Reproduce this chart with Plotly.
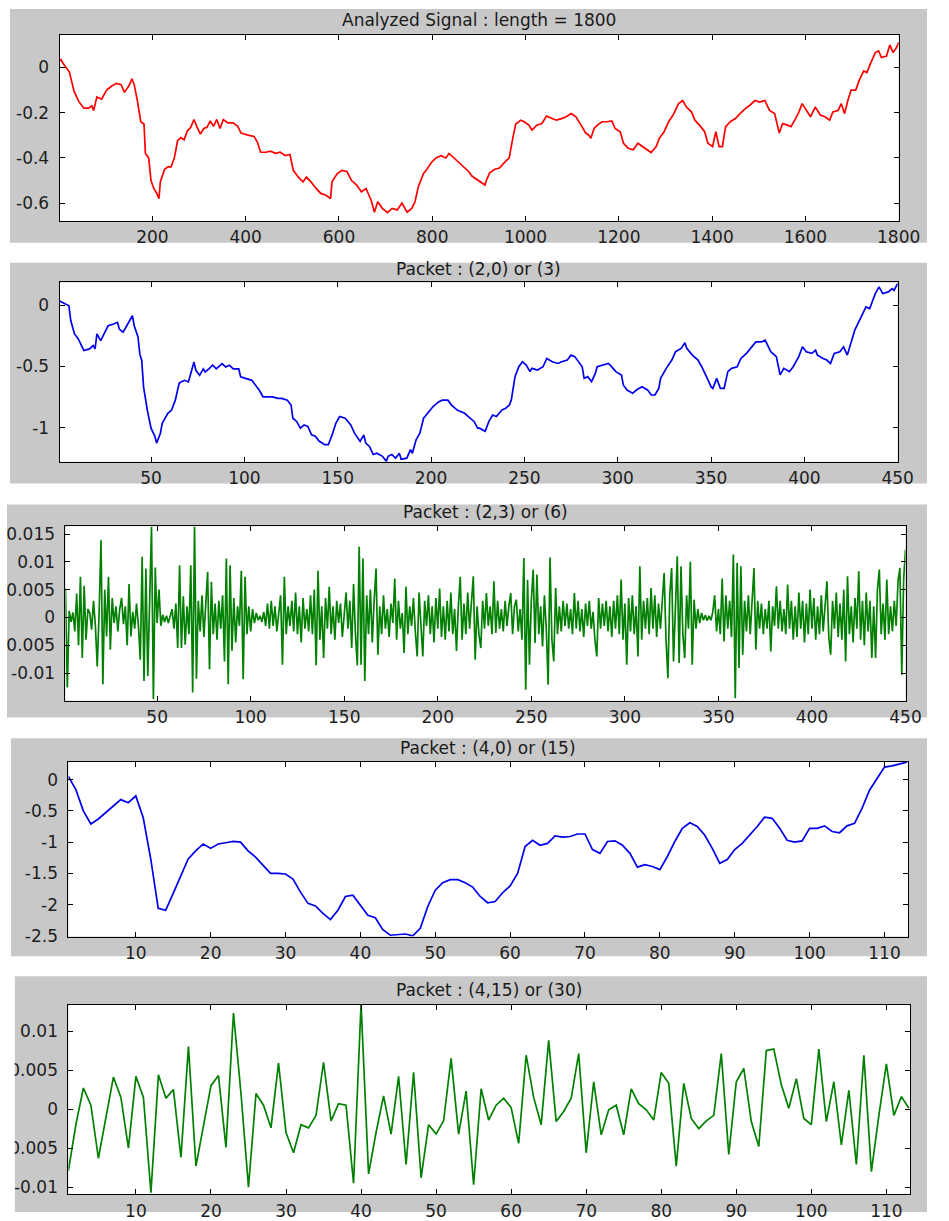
import numpy as np
import plotly.graph_objects as go

W, H = 949, 1221

# ---- analyzed signal, length 1800 (read at sample positions) ----
sig_x = [1, 4, 8, 15, 22, 32, 42, 53, 63, 70,
         74, 81, 91, 102, 112, 123, 133, 140, 150, 156,
         161, 168, 175, 182, 185, 192, 197, 203, 209, 214,
         217, 226, 233, 240, 247, 254, 261, 268, 275, 282,
         289, 296, 303, 310, 317, 324, 331, 338, 345, 352,
         362, 373, 383, 390, 397, 407, 418, 425, 432, 443,
         453, 464, 474, 485, 495, 502, 513, 523, 530, 540,
         551, 561, 572, 582, 585, 596, 606, 617, 627, 638,
         648, 658, 669, 676, 683, 693, 704, 714, 725, 735,
         746, 756, 763, 770, 781, 787, 798, 808, 819, 829,
         836, 847, 857, 867, 878, 885, 899, 913, 916, 923,
         934, 944, 955, 965, 972, 979, 990, 997, 1007, 1014,
         1024, 1035, 1045, 1056, 1066, 1077, 1087, 1098, 1108, 1119,
         1129, 1136, 1140, 1147, 1154, 1164, 1175, 1185, 1192, 1203,
         1210, 1220, 1231, 1241, 1252, 1262, 1269, 1280, 1287, 1297,
         1307, 1318, 1328, 1337, 1345, 1356, 1363, 1373, 1384, 1391,
         1401, 1408, 1415, 1422, 1429, 1439, 1450, 1460, 1471, 1481,
         1492, 1502, 1513, 1523, 1534, 1544, 1551, 1562, 1569, 1579,
         1586, 1593, 1600, 1611, 1621, 1632, 1642, 1652, 1659, 1670,
         1677, 1684, 1691, 1698, 1708, 1715, 1725, 1732, 1739, 1750,
         1757, 1763, 1774, 1781, 1788, 1795, 1800]
sig_y = [0.03, 0.035, 0.02, -0.003, -0.02, -0.105, -0.15, -0.18, -0.18, -0.17,
         -0.19, -0.13, -0.14, -0.10, -0.083, -0.07, -0.076, -0.11, -0.08, -0.05,
         -0.076, -0.15, -0.24, -0.25, -0.38, -0.40, -0.50, -0.535, -0.555, -0.58,
         -0.506, -0.45, -0.44, -0.44, -0.40, -0.324, -0.31, -0.32, -0.28, -0.266,
         -0.23, -0.265, -0.295, -0.27, -0.265, -0.236, -0.26, -0.23, -0.27, -0.23,
         -0.245, -0.245, -0.26, -0.29, -0.295, -0.30, -0.305, -0.33, -0.375, -0.375,
         -0.37, -0.38, -0.375, -0.39, -0.385, -0.455, -0.485, -0.506, -0.485, -0.506,
         -0.535, -0.557, -0.565, -0.58, -0.506, -0.47, -0.455, -0.46, -0.50, -0.52,
         -0.55, -0.535, -0.587, -0.64, -0.594, -0.623, -0.642, -0.623, -0.63, -0.60,
         -0.64, -0.623, -0.594, -0.528, -0.47, -0.455, -0.42, -0.40, -0.39, -0.40,
         -0.38, -0.40, -0.42, -0.44, -0.46, -0.48, -0.50, -0.52, -0.50, -0.466,
         -0.45, -0.445, -0.42, -0.40, -0.32, -0.25, -0.233, -0.24, -0.255, -0.277,
         -0.255, -0.248, -0.215, -0.226, -0.233, -0.226, -0.218, -0.204, -0.218, -0.255,
         -0.29, -0.30, -0.313, -0.27, -0.255, -0.24, -0.24, -0.236, -0.27, -0.284,
         -0.335, -0.357, -0.364, -0.335, -0.35, -0.364, -0.376, -0.35, -0.313, -0.284,
         -0.24, -0.204, -0.16, -0.146, -0.175, -0.197, -0.233, -0.255, -0.284, -0.335,
         -0.35, -0.284, -0.35, -0.35, -0.262, -0.24, -0.226, -0.204, -0.182, -0.167,
         -0.146, -0.153, -0.146, -0.19, -0.204, -0.29, -0.248, -0.255, -0.262, -0.226,
         -0.197, -0.16, -0.182, -0.218, -0.175, -0.21, -0.218, -0.233, -0.197, -0.19,
         -0.16, -0.204, -0.146, -0.10, -0.10, -0.058, -0.015, -0.022, 0.015, 0.066,
         0.073, 0.044, 0.051, 0.10, 0.066, 0.087, 0.11]

# ---- packet (2,0), 450 samples ----
p20_x = [1, 4, 6, 7, 9, 11, 13, 14, 17, 19,
         20, 21, 23, 25, 27, 30, 32, 33, 35, 37,
         39, 40, 41, 43, 44, 45, 46, 48, 50, 52,
         53, 55, 56, 58, 59, 61, 63, 65, 66, 68,
         70, 72, 73, 74, 76, 78, 79, 81, 83, 85,
         86, 88, 90, 92, 94, 97, 98, 101, 104, 106,
         108, 110, 112, 115, 118, 120, 123, 125, 126, 128,
         130, 132, 134, 136, 138, 140, 143, 145, 147, 149,
         151, 154, 157, 159, 162, 164, 165, 167, 169, 171,
         174, 176, 177, 179, 181, 183, 184, 187, 189, 190,
         192, 194, 196, 198, 201, 204, 206, 209, 211, 214,
         218, 220, 223, 225, 226, 229, 231, 233, 235, 238,
         240, 242, 243, 245, 247, 249, 251, 253, 254, 257,
         260, 262, 265, 268, 270, 273, 275, 277, 279, 281,
         282, 284, 286, 288, 289, 292, 295, 296, 299, 302,
         303, 305, 308, 310, 313, 316, 318, 320, 322, 323,
         326, 329, 331, 334, 336, 337, 340, 343, 345, 348,
         350, 351, 353, 355, 357, 359, 361, 364, 366, 369,
         371, 374, 377, 379, 382, 385, 387, 389, 392, 394,
         397, 399, 401, 404, 406, 407, 410, 412, 414, 416,
         419, 421, 423, 425, 427, 430, 433, 435, 438, 440,
         442, 445, 447, 448, 450]
p20_y = [0.035, 0.008, -0.005, -0.127, -0.235, -0.276, -0.343, -0.37, -0.357, -0.33,
         -0.357, -0.235, -0.29, -0.235, -0.168, -0.154, -0.14, -0.195, -0.22, -0.168,
         -0.114, -0.086, -0.168, -0.26, -0.40, -0.45, -0.67, -0.857, -1.005, -1.07,
         -1.127, -1.046, -0.965, -0.91, -0.884, -0.857, -0.776, -0.64, -0.627, -0.614,
         -0.627, -0.519, -0.465, -0.532, -0.573, -0.52, -0.546, -0.52, -0.49, -0.52,
         -0.505, -0.478, -0.505, -0.49, -0.52, -0.52, -0.586, -0.60, -0.614, -0.654,
         -0.695, -0.75, -0.75, -0.75, -0.762, -0.762, -0.776, -0.816, -0.924, -0.95,
         -1.005, -0.978, -0.99, -1.06, -1.07, -1.11, -1.14, -1.14, -1.06, -0.965,
         -0.91, -0.924, -0.978, -1.046, -1.113, -1.06, -1.127, -1.154, -1.22, -1.21,
         -1.235, -1.276, -1.235, -1.22, -1.25, -1.21, -1.26, -1.25, -1.18, -1.21,
         -1.10, -1.046, -0.924, -0.884, -0.83, -0.79, -0.776, -0.776, -0.816, -0.857,
         -0.883, -0.91, -0.95, -1.005, -1.005, -1.03, -0.95, -0.897, -0.91, -0.856,
         -0.842, -0.815, -0.774, -0.584, -0.503, -0.462, -0.49, -0.543, -0.516, -0.53,
         -0.503, -0.435, -0.462, -0.476, -0.462, -0.448, -0.408, -0.42, -0.462, -0.503,
         -0.598, -0.584, -0.625, -0.557, -0.503, -0.49, -0.476, -0.49, -0.543, -0.57,
         -0.652, -0.693, -0.72, -0.693, -0.666, -0.693, -0.734, -0.734, -0.68, -0.598,
         -0.516, -0.448, -0.38, -0.353, -0.307, -0.353, -0.408, -0.448, -0.503, -0.598,
         -0.666, -0.68, -0.598, -0.68, -0.68, -0.543, -0.516, -0.503, -0.435, -0.394,
         -0.353, -0.30, -0.30, -0.285, -0.38, -0.42, -0.57, -0.516, -0.543, -0.503,
         -0.42, -0.34, -0.38, -0.394, -0.367, -0.408, -0.435, -0.448, -0.476, -0.394,
         -0.38, -0.34, -0.408, -0.313, -0.204, -0.109, -0.014, -0.027, 0.095, 0.15,
         0.095, 0.109, 0.136, 0.122, 0.177]

# ---- packet (2,3), 450 detail values, in units of 1e-3 ----
p23_milli = [5.0, -12.6, 1.2, -0.8, 0.9, -2.5, 4.3, -5.0, 7.3, -7.3,
             5.7, -4.0, 1.5, 0.8, -2.2, 3.0, -1.5, -8.8, 1.0, 13.9,
             -12.0, 5.0, -3.4, 7.3, -5.8, 3.5, -1.0, 2.0, -2.5, 1.5,
             3.5, -1.2, 2.0, -5.0, 6.0, -3.4, 1.0, -2.0, 2.5, -1.5,
             -7.6, 10.9, -11.4, 8.8, -10.5, 3.0, 16.3, -14.7, 9.0, -1.0,
             5.0, -1.5, 0.5, -0.8, 0.3, -1.0, 0.5, 1.5, -2.0, 2.5,
             -5.5, 9.4, -5.5, 3.8, -4.9, 2.0, -3.0, 9.4, -13.5, 16.3,
             -11.0, 3.0, -2.5, 4.0, -3.5, 2.0, 8.2, -9.3, 6.4, -3.0,
             2.5, -4.0, 3.0, -2.0, 4.0, -7.9, 10.6, -12.0, 9.4, -6.0,
             3.5, -4.5, 2.0, -1.5, 8.4, -11.1, 7.3, -3.0, 2.0, -2.5,
             1.5, -1.0, 0.8, -0.5, 0.3, -0.8, 1.0, -1.5, 2.5, -2.0,
             3.0, -1.5, 2.0, -2.5, 1.5, 4.0, -8.5, 7.3, -3.0, 2.0,
             -1.5, 3.0, -2.5, 4.5, -3.0, 2.0, -4.5, 3.5, -2.0, 1.5,
             -2.5, 4.0, -3.0, 5.0, -8.6, 8.4, -4.0, 2.0, -7.3, 3.5,
             -2.0, 5.5, -3.0, 2.0, -4.0, 3.0, -1.0, 2.5, -3.5, 1.0,
             4.5, -2.0, 3.0, -5.5, 6.0, -3.0, -8.6, 12.7, -8.5, 10.6,
             -11.4, 4.0, -3.0, 5.0, -4.5, 3.0, 8.8, -6.7, 2.0, -3.0,
             4.0, -2.0, 1.5, -3.5, 2.5, -1.0, 7.0, -4.0, 3.0, -2.0,
             0.8, -6.4, 5.5, -3.0, 2.0, -1.5, 3.5, -2.5, -7.0, 4.5,
             -2.5, -7.0, 3.0, -1.5, 4.0, -3.0, 2.0, -4.5, 3.5, -2.0,
             5.2, -3.5, 2.0, -4.0, 3.0, -2.5, 4.5, -3.0, 1.5, -6.0,
             2.0, 7.3, -4.0, 2.5, -3.0, 4.5, -2.0, 3.0, 7.4, -7.6,
             2.0, -3.0, -5.5, 3.0, -2.0, 4.4, -1.5, 2.0, -3.0, 6.5,
             -2.8, 3.0, -2.0, 1.5, -2.5, 3.0, -1.5, 2.0, 4.4, -3.0,
             2.0, 3.2, -2.5, 1.5, -4.0, 10.7, -13.0, 6.8, -8.5, 3.0,
             8.6, -4.6, 7.7, -3.0, 2.0, -5.2, 4.0, -2.0, -12.1, 10.8,
             -4.0, -7.9, 5.3, -3.0, 2.0, -2.5, 3.0, -1.5, 2.5, -2.0,
             1.5, -3.0, 4.4, -2.0, 3.0, -2.5, 1.5, -3.5, 2.5, -1.5,
             3.0, -2.0, 1.0, -4.0, -7.0, 3.5, -2.0, 2.5, -1.5, 3.0,
             -2.5, 2.0, -3.5, 3.0, -2.0, 4.0, -3.0, 6.8, -4.0, 2.5,
             -8.5, 3.5, -2.5, 4.0, -3.0, 2.0, -7.0, 9.2, -4.0, 3.0,
             -2.0, 3.5, -3.0, 5.3, -2.0, 4.0, -3.5, 2.5, -2.0, 3.0,
             8.0, -4.0, -10.9, 4.0, 8.9, -7.9, 3.0, 11.0, -8.2, 9.2,
             -3.0, -7.3, 4.0, -2.0, 10.0, -8.5, 3.2, -2.0, 1.5, -1.0,
             0.8, -0.5, 0.4, -0.6, 0.3, -0.5, 1.0, 4.0, -2.5, 1.5,
             -3.0, 7.0, -4.3, 4.0, -2.0, 3.0, -3.5, 11.3, -14.5, 9.8,
             -9.1, 9.2, -6.7, 3.0, -2.5, 4.0, -3.0, 2.0, 8.9, -5.8,
             3.0, -2.0, 2.5, -3.0, 1.5, -2.0, 3.0, -6.1, 2.0, -1.5,
             5.6, -2.0, 3.0, -2.5, 1.5, -3.0, 5.9, -2.0, 3.0, -4.0,
             2.0, -3.5, 4.5, -2.0, 3.0, -4.5, 2.5, -3.0, 5.0, -2.0,
             3.5, -4.0, 2.0, -3.0, 4.0, -2.5, 3.0, 6.5, -3.5, -6.7,
             3.0, -2.0, 4.5, -3.5, 2.5, -4.0, 5.0, -7.9, 7.4, -3.0,
             2.0, -4.5, 3.5, -2.0, 8.3, -4.0, 3.0, -5.0, 4.5, -2.5,
             3.0, -7.3, 2.0, -7.3, 5.0, 8.6, -3.0, 2.5, -4.0, 6.8,
             -3.0, 2.0, -2.5, 3.0, -1.5, 6.5, 8.9, -10.3, 6.8, 12.2]

# ---- packet (4,0), 113 samples ----
p40_y = [0.05, -0.16, -0.50, -0.71, -0.63, -0.53, -0.42, -0.32, -0.37, -0.26,
         -0.61, -1.27, -2.06, -2.09, -1.82, -1.53, -1.27, -1.14, -1.03, -1.10,
         -1.03, -1.01, -0.99, -1.00, -1.14, -1.24, -1.37, -1.50, -1.50, -1.51,
         -1.59, -1.80, -1.98, -2.02, -2.14, -2.24, -2.09, -1.87, -1.85, -2.01,
         -2.17, -2.21, -2.40, -2.49, -2.48, -2.47, -2.50, -2.38, -2.03, -1.77,
         -1.65, -1.60, -1.60, -1.65, -1.72, -1.87, -1.97, -1.95, -1.81, -1.70,
         -1.50, -1.07, -0.97, -1.05, -1.02, -0.90, -0.92, -0.91, -0.87, -0.87,
         -1.12, -1.18, -0.99, -0.98, -1.05, -1.18, -1.40, -1.36, -1.39, -1.44,
         -1.23, -0.99, -0.78, -0.69, -0.75, -0.89, -1.10, -1.34, -1.28, -1.12,
         -1.02, -0.89, -0.75, -0.60, -0.62, -0.78, -0.97, -1.00, -0.98, -0.78,
         -0.78, -0.74, -0.83, -0.85, -0.74, -0.70, -0.46, -0.17, 0.02, 0.20,
         0.22, 0.25, 0.28]

# ---- packet (4,15), 113 detail values, in units of 1e-3 ----
p415_milli = [-7.9, -2.0, 2.7, 0.5, -6.3, -1.0, 4.1, 1.5, -5.0, 4.2,
              1.5, -10.7, 4.4, 1.4, 2.5, -6.2, 8.0, -7.3, -2.0, 3.0,
              4.3, -4.9, 12.3, 2.0, -10.0, 2.0, 0.5, -2.4, 5.9, -3.0,
              -5.6, -2.0, -2.4, -0.8, 6.0, -1.5, 0.7, 0.5, -9.5, 13.5,
              -8.3, -3.0, 1.7, -3.2, 4.2, -7.1, 4.7, -8.8, -2.0, -3.2,
              -1.5, 6.5, -3.2, 2.3, -9.7, 2.6, -1.4, 0.5, 1.4, 0.2,
              -4.4, 6.9, 1.5, -2.0, 8.8, -1.6, -0.3, 1.4, 7.1, -5.6,
              3.5, -3.3, -0.1, 0.5, -3.3, 2.6, 0.7, -0.1, -1.4, 4.7,
              3.3, -7.3, 3.3, -1.2, -2.5, -1.5, -0.8, 7.1, -5.8, 3.5,
              5.2, -1.6, -4.8, 7.5, 7.7, 3.1, 0.1, 3.9, -1.2, -2.0,
              7.7, -1.6, 3.5, -4.6, 2.4, -7.1, 6.9, -8.0, -0.8, 5.8,
              -0.8, 1.6, 0.1]

titles = ["Analyzed Signal : length = 1800", "Packet : (2,0) or (3)",
          "Packet : (2,3) or (6)", "Packet : (4,0) or (15)",
          "Packet : (4,15) or (30)"]

xt_1800 = [200, 400, 600, 800, 1000, 1200, 1400, 1600, 1800]
xt_450 = [50, 100, 150, 200, 250, 300, 350, 400, 450]
xt_113 = [10, 20, 30, 40, 50, 60, 70, 80, 90, 100, 110]

yt_sig = [0, -0.2, -0.4, -0.6]
yl_sig = ["0", "-0.2", "-0.4", "-0.6"]
yt_p20 = [0, -0.5, -1]
yl_p20 = ["0", "-0.5", "-1"]
yt_p23 = [0.015, 0.01, 0.005, 0, -0.005, -0.01]
yl_p23 = ["0.015", "0.01", "0.005", "0", "-0.005", "-0.01"]
yt_p40 = [0, -0.5, -1, -1.5, -2, -2.5]
yl_p40 = ["0", "-0.5", "-1", "-1.5", "-2", "-2.5"]
yt_p415 = [0.01, 0.005, 0, -0.005, -0.01]
yl_p415 = ["0.01", "0.005", "0", "-0.005", "-0.01"]

p23_y = np.array(p23_milli) * 1e-3
p415_y = np.array(p415_milli) * 1e-3
n450 = np.arange(1, 451)
n113 = np.arange(1, 114)

# panel boxes in pixels: plot area (x0, x1, y0, y1) and grey frame (x0, y0, y1)
panels = [
    dict(plot=(61, 920, 33, 221), frame=(10, 7, 243), title_y=18),
    dict(plot=(61, 919, 283, 464), frame=(10, 263, 486), title_y=269),
    dict(plot=(67, 927, 529, 705), frame=(7, 507, 722), title_y=515),
    dict(plot=(70, 930, 767, 943), frame=(11, 743, 963), title_y=753),
    dict(plot=(70, 932, 1012, 1203), frame=(15, 983, 1221), title_y=997),
]

series = [
    (sig_x, sig_y, "#ff0000", [1, 1800], [-0.679, 0.145], xt_1800, yt_sig, yl_sig),
    (p20_x, p20_y, "#0000ee", [1, 450], [-1.28, 0.186], xt_450, yt_p20, yl_p20),
    (n450, p23_y, "#008000", [1, 450], [-0.01495, 0.0164], xt_450, yt_p23, yl_p23),
    (n113, p40_y, "#0000ee", [1, 113.2], [-2.51, 0.28], xt_113, yt_p40, yl_p40),
    (n113, p415_y, "#008000", [1, 113.2], [-0.0109, 0.01335], xt_113, yt_p415, yl_p415),
]

tick_font = dict(family="DejaVu Sans", size=17, color="#1e1e1e")

fig = go.Figure()
shapes = []
annotations = []
layout_axes = {}

for k, (pan, ser) in enumerate(zip(panels, series), start=1):
    px0, px1, py0, py1 = pan["plot"]
    fx0, fy0, fy1 = pan["frame"]
    xs, ys, color, xr, yr, xt, yt, yl = ser
    sx = "" if k == 1 else str(k)

    fig.add_trace(go.Scatter(x=xs, y=ys, mode="lines",
                             line=dict(color=color, width=1.7),
                             xaxis="x" + sx, yaxis="y" + sx,
                             showlegend=False, hoverinfo="skip"))

    common = dict(showline=True, linecolor="black", linewidth=1,
                  mirror="ticks", ticks="inside", ticklen=5,
                  tickcolor="black", tickwidth=1, showgrid=False,
                  zeroline=False, tickfont=tick_font)
    layout_axes["xaxis" + sx] = dict(
        common, domain=[px0 / W, px1 / W], range=xr,
        tickvals=xt, ticktext=[str(v) for v in xt],
        anchor="y" + sx, ticklabelstandoff=1)
    layout_axes["yaxis" + sx] = dict(
        common, domain=[1 - py1 / H, 1 - py0 / H], range=yr,
        tickvals=yt, ticktext=yl, anchor="x" + sx, ticklabelstandoff=6)

    # grey figure frame, then white plot area on top of it
    shapes.append(dict(type="rect", xref="paper", yref="paper",
                       x0=fx0 / W, x1=1, y0=1 - fy1 / H, y1=1 - fy0 / H,
                       fillcolor="#c8c8c8", line=dict(width=0), layer="below"))
    shapes.append(dict(type="rect", xref="paper", yref="paper",
                       x0=px0 / W, x1=px1 / W, y0=1 - py1 / H, y1=1 - py0 / H,
                       fillcolor="white", line=dict(width=0), layer="below"))
    # crop tick labels that run past the grey frame on the left
    shapes.append(dict(type="rect", xref="paper", yref="paper",
                       x0=0, x1=fx0 / W, y0=1 - fy1 / H, y1=1 - fy0 / H,
                       fillcolor="white", line=dict(width=0), layer="above"))

    annotations.append(dict(text=titles[k - 1], xref="paper", yref="paper",
                            x=(px0 + px1) / 2 / W, y=1 - pan["title_y"] / H,
                            xanchor="center", yanchor="middle", showarrow=False,
                            font=dict(family="DejaVu Sans", size=17, color="#1a1a1a")))

fig.update_layout(
    width=W, height=H,
    margin=dict(l=0, r=0, t=0, b=0),
    paper_bgcolor="white", plot_bgcolor="white",
    shapes=shapes, annotations=annotations,
    **layout_axes,
)

fig.write_html("out.html", config={"displayModeBar": False},
               post_script="document.body.style.margin='0';")
